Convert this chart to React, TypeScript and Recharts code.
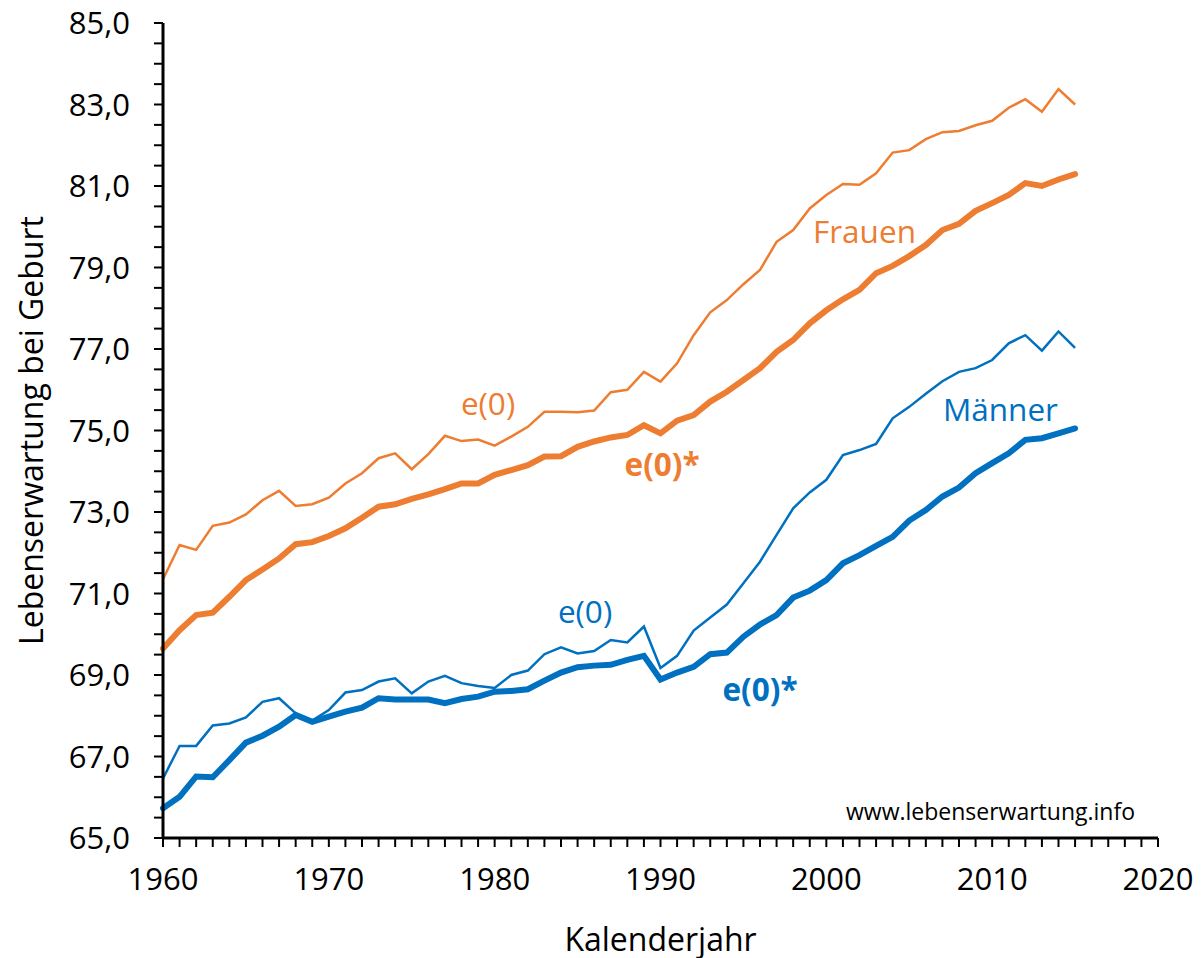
import { LineChart, Line, XAxis, YAxis, ReferenceDot, Label } from "recharts";

const YEARS = [
  1960, 1961, 1962, 1963, 1964, 1965, 1966, 1967, 1968, 1969,
  1970, 1971, 1972, 1973, 1974, 1975, 1976, 1977, 1978, 1979,
  1980, 1981, 1982, 1983, 1984, 1985, 1986, 1987, 1988, 1989,
  1990, 1991, 1992, 1993, 1994, 1995, 1996, 1997, 1998, 1999,
  2000, 2001, 2002, 2003, 2004, 2005, 2006, 2007, 2008, 2009,
  2010, 2011, 2012, 2013, 2014, 2015,
];

// Frauen, Periodenlebenserwartung e(0)
const FRAUEN_E0 = [
  71.35, 72.19, 72.07, 72.66, 72.74, 72.94, 73.29, 73.52, 73.15, 73.19,
  73.35, 73.7, 73.95, 74.32, 74.44, 74.05, 74.42, 74.87, 74.74, 74.78,
  74.63, 74.85, 75.09, 75.46, 75.46, 75.45, 75.49, 75.94, 76.0, 76.44,
  76.2, 76.65, 77.34, 77.9, 78.2, 78.59, 78.94, 79.63, 79.92, 80.45,
  80.78, 81.05, 81.03, 81.31, 81.82, 81.88, 82.15, 82.32, 82.35, 82.49,
  82.6, 82.92, 83.13, 82.82, 83.38, 83.0,
];

// Frauen, e(0)*
const FRAUEN_E0S = [
  69.65, 70.1, 70.47, 70.53, 70.92, 71.33, 71.59, 71.86, 72.21, 72.26,
  72.41, 72.6, 72.86, 73.13, 73.19, 73.32, 73.43, 73.56, 73.7, 73.7,
  73.91, 74.03, 74.15, 74.36, 74.37, 74.6, 74.73, 74.83, 74.89, 75.13,
  74.93, 75.24, 75.38, 75.71, 75.95, 76.24, 76.53, 76.93, 77.22, 77.63,
  77.95, 78.22, 78.45, 78.86, 79.04, 79.28, 79.55, 79.92, 80.07, 80.39,
  80.58, 80.78, 81.07, 81.0, 81.16, 81.29,
];

// Männer, e(0)
const MAENNER_E0 = [
  66.46, 67.26, 67.26, 67.76, 67.81, 67.96, 68.34, 68.43, 68.06, 67.88,
  68.14, 68.57, 68.63, 68.84, 68.92, 68.55, 68.84, 68.98, 68.8, 68.73,
  68.68, 69.0, 69.11, 69.51, 69.68, 69.53, 69.59, 69.86, 69.8, 70.19,
  69.17, 69.47, 70.09, 70.41, 70.73, 71.25, 71.78, 72.44, 73.09, 73.48,
  73.79, 74.4, 74.52, 74.67, 75.3, 75.58, 75.9, 76.21, 76.44, 76.53,
  76.73, 77.14, 77.34, 76.96, 77.43, 77.03,
];

// Männer, e(0)*
const MAENNER_E0S = [
  65.73, 66.01, 66.51, 66.49, 66.91, 67.34, 67.51, 67.73, 68.02, 67.85,
  67.98, 68.1, 68.2, 68.43, 68.4, 68.4, 68.4, 68.31, 68.41, 68.47,
  68.59, 68.61, 68.65, 68.86, 69.06, 69.19, 69.23, 69.25, 69.37, 69.47,
  68.89, 69.06, 69.2, 69.51, 69.55, 69.94, 70.24, 70.47, 70.9, 71.07,
  71.33, 71.74, 71.94, 72.17, 72.39, 72.79, 73.05, 73.38, 73.6, 73.95,
  74.2, 74.44, 74.77, 74.81, 74.93, 75.05,
];

const X_TICKS = Array.from({ length: 61 }, (_, i) => 1960 + i);
const Y_TICKS = Array.from({ length: 41 }, (_, i) => 65 + i * 0.5);

const ORANGE = "#ED7D31";
const BLUE = "#0070C0";
const FONT = "'Open Sans', sans-serif";

const data = YEARS.map((year, i) => ({
  year,
  frauenE0: FRAUEN_E0[i],
  frauenE0s: FRAUEN_E0S[i],
  maennerE0: MAENNER_E0[i],
  maennerE0s: MAENNER_E0S[i],
}));

const fmtX = (v: number) => (v % 10 === 0 ? String(v) : "");
const fmtY = (v: number) =>
  Number.isInteger(v) && v % 2 === 1 ? v.toFixed(1).replace(".", ",") : "";

function Note({ x, y, text, color, bold = false, size = 31.5 }: any) {
  return (
    <ReferenceDot
      x={x}
      y={y}
      r={0}
      fill="none"
      stroke="none"
      label={{
        value: text,
        position: "center",
        fill: color,
        fontSize: size,
        fontFamily: FONT,
        fontWeight: bold ? 700 : 400,
      }}
    />
  );
}

export default function App() {
  return (
    <div style={{ width: 1203, height: 958, margin: "-8px 0 0 -8px", fontFamily: FONT }}>
      <LineChart
        width={1203}
        height={958}
        data={data}
        margin={{ top: 23, right: 45, left: 0, bottom: 0 }}
      >
        <XAxis
          dataKey="year"
          type="number"
          domain={[1960, 2020]}
          ticks={X_TICKS}
          interval={0}
          tickFormatter={fmtX}
          height={120}
          tickSize={9}
          tickMargin={21}
          axisLine={{ stroke: "#000", strokeWidth: 3 }}
          tickLine={{ stroke: "#000", strokeWidth: 2 }}
          tick={{ fill: "#000", fontSize: 31, fontFamily: FONT }}
        >
          <Label
            content={({ viewBox }: any) => (
              <text
                x={viewBox.x + viewBox.width / 2}
                y={viewBox.y + 100}
                textAnchor="middle"
                dominantBaseline="central"
                fontSize={32}
                fontFamily={FONT}
                fill="#000"
              >
                Kalenderjahr
              </text>
            )}
          />
        </XAxis>
        <YAxis
          type="number"
          domain={[65, 85]}
          ticks={Y_TICKS}
          interval={0}
          tickFormatter={fmtY}
          width={163}
          tickSize={9}
          tickMargin={24}
          axisLine={{ stroke: "#000", strokeWidth: 3 }}
          tickLine={{ stroke: "#000", strokeWidth: 2 }}
          tick={{ fill: "#000", fontSize: 31, fontFamily: FONT }}
        >
          <Label
            content={({ viewBox }: any) => {
              const cx = 30;
              const cy = viewBox.y + viewBox.height / 2;
              return (
                <text
                  x={cx}
                  y={cy}
                  transform={`rotate(-90 ${cx} ${cy})`}
                  textAnchor="middle"
                  dominantBaseline="central"
                  fontSize={32}
                  fontFamily={FONT}
                  fill="#000"
                >
                  Lebenserwartung bei Geburt
                </text>
              );
            }}
          />
        </YAxis>

        <Line dataKey="frauenE0s" stroke={ORANGE} strokeWidth={6} dot={false} strokeLinecap="round" isAnimationActive={false} />
        <Line dataKey="frauenE0" stroke={ORANGE} strokeWidth={2.5} dot={false} isAnimationActive={false} />
        <Line dataKey="maennerE0s" stroke={BLUE} strokeWidth={6} dot={false} strokeLinecap="round" isAnimationActive={false} />
        <Line dataKey="maennerE0" stroke={BLUE} strokeWidth={2.5} dot={false} isAnimationActive={false} />

        <Note x={1979.6} y={75.65} text="e(0)" color={ORANGE} />
        <Note x={1990.1} y={74.15} text="e(0)*" color={ORANGE} bold />
        <Note x={2002.3} y={79.87} text="Frauen" color={ORANGE} />
        <Note x={1985.45} y={70.55} text="e(0)" color={BLUE} />
        <Note x={1996.0} y={68.63} text="e(0)*" color={BLUE} bold />
        <Note x={2010.5} y={75.5} text="Männer" color={BLUE} />
        <Note x={2009.9} y={65.64} text="www.lebenserwartung.info" color="#000" size={23} />
      </LineChart>
    </div>
  );
}
